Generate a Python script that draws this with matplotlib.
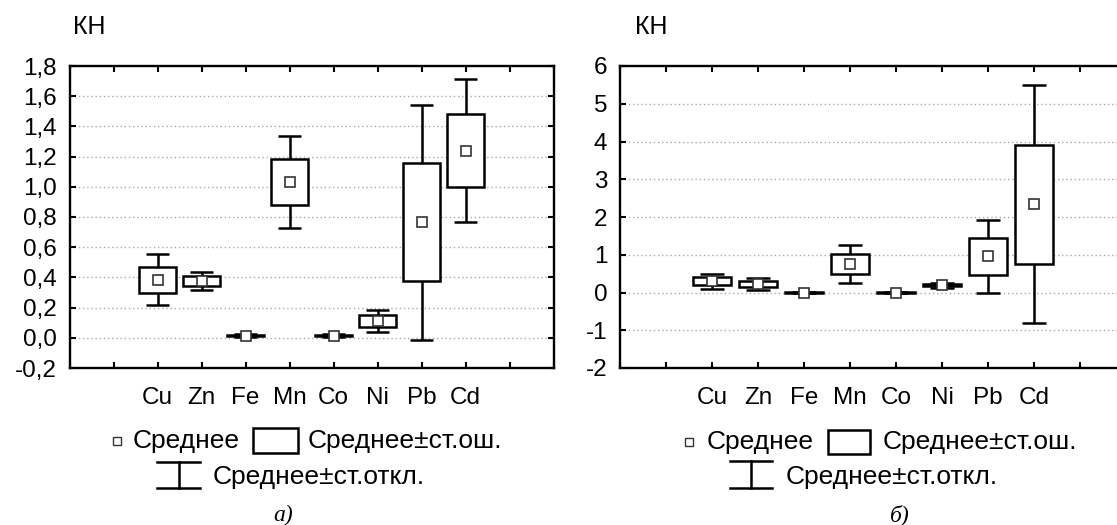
import numpy as np
import matplotlib
matplotlib.use("Agg")
import matplotlib.pyplot as plt
from matplotlib.patches import Rectangle
from matplotlib.lines import Line2D
from matplotlib.ticker import FuncFormatter

plt.rcParams['font.family'] = ['Liberation Sans', 'DejaVu Sans']

# element names and statistics (mean, standard error, standard deviation)
elements = ['Cu', 'Zn', 'Fe', 'Mn', 'Co', 'Ni', 'Pb', 'Cd']

mean_a = [0.385, 0.375, 0.015, 1.03, 0.015, 0.113, 0.765, 1.24]
se_a = [0.085, 0.032, 0.004, 0.152, 0.004, 0.039, 0.39, 0.24]
sd_a = [0.17, 0.061, 0.009, 0.305, 0.009, 0.072, 0.78, 0.475]

mean_b = [0.30, 0.225, 0.0, 0.75, 0.0, 0.19, 0.955, 2.34]
se_b = [0.10, 0.085, 0.005, 0.26, 0.005, 0.03, 0.48, 1.575]
sd_b = [0.20, 0.15, 0.01, 0.51, 0.01, 0.065, 0.975, 3.15]

W, H = 1117, 525
fig = plt.figure(figsize=(W / 100, H / 100), dpi=100)


def px(x, y):
    """pixel coords -> figure fraction"""
    return x / W, 1 - y / H


def draw_panel(ax, mean, se, sd, ylim, ystep, fmt):
    mean = np.array(mean)
    se = np.array(se)
    sd = np.array(sd)
    pos = np.arange(2, 2 + len(elements))
    bw = 0.82
    cw = 0.54
    lw = 1.8
    # whiskers
    ax.vlines(pos, mean + se, mean + sd, color='black', lw=lw, zorder=3)
    ax.vlines(pos, mean - sd, mean - se, color='black', lw=lw, zorder=3)
    ax.hlines(mean + sd, pos - cw / 2, pos + cw / 2, color='black', lw=lw, zorder=3)
    ax.hlines(mean - sd, pos - cw / 2, pos + cw / 2, color='black', lw=lw, zorder=3)
    # boxes
    for p, m, s in zip(pos, mean, se):
        ax.add_patch(Rectangle((p - bw / 2, m - s), bw, 2 * s, facecolor='white',
                               edgecolor='black', lw=lw, zorder=4))
    ax.plot(pos, mean, 's', ms=7, mfc='white', mec='#333333', mew=1.2, zorder=5)

    ax.set_xlim(0, 11)
    ax.set_ylim(*ylim)
    ax.set_xticks(np.arange(0, 12))
    labels = [''] * 12
    for p, e in zip(pos, elements):
        labels[p] = e
    ax.set_xticklabels(labels)
    yt = np.arange(ylim[0], ylim[1] + ystep / 2, ystep)
    ax.set_yticks(yt)
    ax.yaxis.set_major_formatter(FuncFormatter(fmt))
    ax.tick_params(direction='in', top=True, right=True, length=4, width=1.5,
                   labelsize=17.5)
    ax.tick_params(axis='x', pad=14)
    ax.tick_params(axis='y', pad=9)
    ax.grid(axis='y', color='#aaaaaa', linestyle=(0, (1, 2)), lw=1)
    ax.set_axisbelow(True)
    for s in ax.spines.values():
        s.set_linewidth(1.7)


ax1 = fig.add_axes([69.5 / W, 1 - 368 / H, 484 / W, 302 / H])
draw_panel(ax1, mean_a, se_a, sd_a, (-0.2, 1.8), 0.2,
           lambda v, p: ('%.1f' % v).replace('.', ','))

ax2 = fig.add_axes([620 / W, 1 - 368 / H, 506 / W, 302 / H])
draw_panel(ax2, mean_b, se_b, sd_b, (-2, 6), 1,
           lambda v, p: '%d' % round(v))

fig.text(*px(73, 27), 'КН', fontsize=18, va='center', ha='left')
fig.text(*px(635, 27), 'КН', fontsize=18, va='center', ha='left')


def legend(mx, my, t1x, bx0, bx1, by0, by1, t2x, wx0, wx1, wy0, wy1, t3x, t3y, cap, capx):
    fig.add_artist(Line2D([mx / W], [1 - my / H], marker='s', ms=5.5, mfc='white',
                          mec='#333333', mew=1, transform=fig.transFigure))
    fig.text(*px(t1x, my), 'Среднее', fontsize=19, va='center', ha='left')
    fig.add_artist(Rectangle(px(bx0, by1), (bx1 - bx0) / W, (by1 - by0) / H,
                             facecolor='white', edgecolor='black', lw=1.8,
                             transform=fig.transFigure))
    fig.text(*px(t2x, my), 'Среднее±ст.ош.', fontsize=19, va='center', ha='left')
    wc = (wx0 + wx1) / 2
    for xs, ys in [((wx0, wx1), (wy0, wy0)), ((wx0, wx1), (wy1, wy1)), ((wc, wc), (wy0, wy1))]:
        fig.add_artist(Line2D([x / W for x in xs], [1 - y / H for y in ys], color='black',
                              lw=1.8, transform=fig.transFigure))
    fig.text(*px(t3x, t3y), 'Среднее±ст.откл.', fontsize=19, va='center', ha='left')
    fig.text(*px(capx, 515), cap, fontsize=17, va='center', ha='center',
             family=['Liberation Serif', 'DejaVu Serif'], style='italic')


legend(117, 441, 133, 253, 298, 428, 453, 308, 157, 200, 462, 488, 213, 477, 'а)', 283)
legend(689, 442, 707, 828, 870, 430, 454, 883, 730, 772, 461, 488, 786, 477, 'б)', 900)

fig.savefig('out.png', dpi=100)
